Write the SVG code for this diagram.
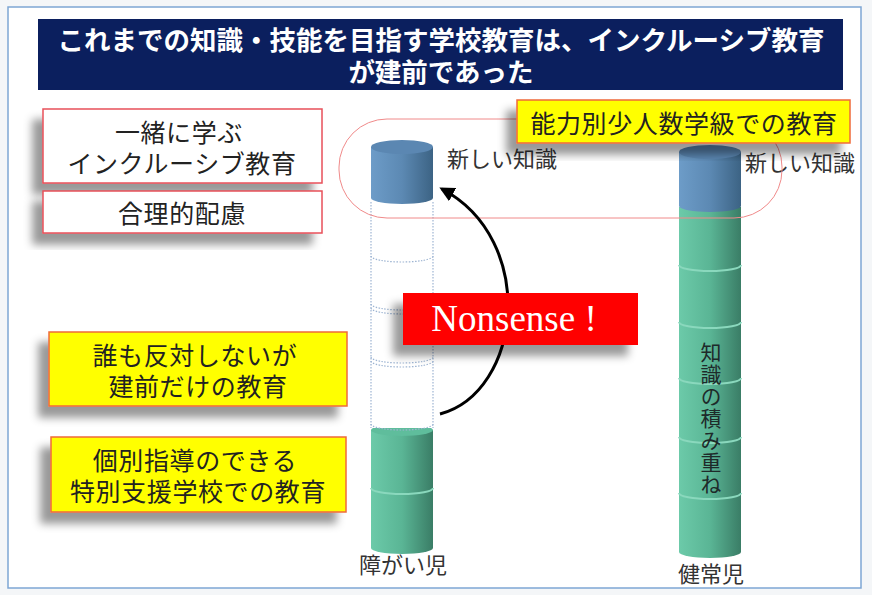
<svg xmlns="http://www.w3.org/2000/svg" width="872" height="595" viewBox="0 0 872 595">
  <defs>
    <style>
      .jp { font-family: "Noto Sans CJK JP", "Noto Sans", sans-serif; }
      .title { font-size: 26.5px; font-weight: bold; fill: #ffffff; }
      .box-text { font-size: 25px; letter-spacing: 0.6px; fill: #222222; }
      .label { font-size: 22px; fill: #333333; }
      .vertical { font-size: 21px; fill: #1e2a2a; writing-mode: vertical-rl; letter-spacing: 1px; }
      .white-box { fill: #ffffff; stroke: #e8505a; stroke-width: 1.5; }
      .yellow-box { fill: #ffff00; stroke: #f06a3a; stroke-width: 1.5; }
      .dotted { fill: none; stroke: #9db4d2; stroke-width: 1.2; stroke-dasharray: 1.5 1.5; }
      .ring-green { fill: none; stroke: #8ad8bd; stroke-width: 2; }
    </style>
    <filter id="shadow" x="-20%" y="-30%" width="140%" height="170%">
      <feGaussianBlur in="SourceAlpha" stdDeviation="4.5"/>
      <feOffset dx="-10" dy="11" result="blur"/>
      <feFlood flood-color="#000000" flood-opacity="0.4"/>
      <feComposite in2="blur" operator="in" result="sh"/>
      <feMerge>
        <feMergeNode in="sh"/>
        <feMergeNode in="SourceGraphic"/>
      </feMerge>
    </filter>
    <linearGradient id="blueBody" x1="0" y1="0" x2="1" y2="0">
      <stop offset="0" stop-color="#6d9cc8"/>
      <stop offset="0.5" stop-color="#5c89b3"/>
      <stop offset="1" stop-color="#3c6384"/>
    </linearGradient>
    <linearGradient id="greenBody" x1="0" y1="0" x2="1" y2="0">
      <stop offset="0" stop-color="#6ccaa9"/>
      <stop offset="0.5" stop-color="#5ab595"/>
      <stop offset="1" stop-color="#3a7d66"/>
    </linearGradient>
    <marker id="arrowHead" viewBox="0 0 10 10" refX="8" refY="5" markerWidth="5" markerHeight="5" orient="auto">
      <path d="M0,0 L10,5 L0,10 Z" fill="#000000"/>
    </marker>
  </defs>

  <!-- slide background and frame -->
  <rect x="0" y="0" width="872" height="595" fill="#f4f6f8"/>
  <rect x="8" y="7" width="853" height="581" fill="#ffffff" stroke="#7ea6d4" stroke-width="1.5"/>

  <!-- title bar -->
  <g id="title">
    <rect x="38" y="19" width="805" height="71" fill="#0b1f5e"/>
    <text class="jp title" x="441" y="50" text-anchor="middle">これまでの知識・技能を目指す学校教育は、インクルーシブ教育</text>
    <text class="jp title" x="441" y="82" text-anchor="middle">が建前であった</text>
  </g>

  <!-- left column: stacked knowledge of a child with disabilities -->
  <g id="cylinder-left">
    <!-- green base -->
    <rect x="371" y="430" width="62" height="118" fill="url(#greenBody)"/>
    <ellipse cx="402" cy="548" rx="31" ry="6" fill="url(#greenBody)"/>
    <ellipse cx="402" cy="430" rx="31" ry="6" fill="#5fbd9c"/>
    <path class="ring-green" d="M371,488 A31,6 0 0 0 433,488"/>
    <!-- empty (dotted) layers -->
    <rect x="371" y="202" width="62" height="226" fill="#ffffff"/>
    <line class="dotted" x1="371" y1="202" x2="371" y2="428"/>
    <line class="dotted" x1="433" y1="202" x2="433" y2="428"/>
    <path class="dotted" d="M371,256 A31,6 0 0 0 433,256"/>
    <path class="dotted" d="M371,304 A31,6 0 0 0 433,304 M371,308 A31,6 0 0 0 433,308"/>
    <path class="dotted" d="M371,357 A31,6 0 0 0 433,357 M371,361 A31,6 0 0 0 433,361"/>
    <path class="dotted" d="M371,424 A31,6 0 0 0 433,424"/>
    <!-- blue top: new knowledge -->
    <rect x="371" y="147" width="62" height="51" fill="url(#blueBody)"/>
    <ellipse cx="402" cy="198" rx="31" ry="6" fill="url(#blueBody)"/>
    <ellipse cx="402" cy="147" rx="31" ry="7" fill="#5b87b2"/>
    <text class="jp label" x="403" y="573" text-anchor="middle">障がい児</text>
  </g>

  <!-- right column: stacked knowledge of a typical child -->
  <g id="cylinder-right">
    <rect x="679" y="207" width="62" height="345" fill="url(#greenBody)"/>
    <ellipse cx="710" cy="552" rx="31" ry="6" fill="url(#greenBody)"/>
    <path class="ring-green" d="M679,265 A31,6 0 0 0 741,265"/>
    <path class="ring-green" d="M679,322 A31,6 0 0 0 741,322"/>
    <path class="ring-green" d="M679,378 A31,6 0 0 0 741,378"/>
    <path class="ring-green" d="M679,437 A31,6 0 0 0 741,437"/>
    <path class="ring-green" d="M679,493 A31,6 0 0 0 741,493"/>
    <rect x="679" y="152" width="62" height="54" fill="url(#blueBody)"/>
    <ellipse cx="710" cy="206" rx="31" ry="6" fill="url(#blueBody)"/>
    <ellipse cx="710" cy="152" rx="31" ry="7" fill="#5b87b2"/>
    <text class="jp vertical" x="711" y="342">知識の積み重ね</text>
    <text class="jp label" x="711" y="582" text-anchor="middle">健常児</text>
  </g>

  <!-- new-knowledge labels -->
  <g id="label-new-left">
    <text class="jp label" x="447" y="167">新しい知識</text>
  </g>
  <g id="label-new-right">
    <text class="jp label" x="745" y="171">新しい知識</text>
  </g>

  <!-- grouping outline around the new-knowledge tops -->
  <g id="grouping-outline">
    <rect x="339" y="119" width="443" height="99" rx="48" ry="48" fill="none" stroke="#f08a8a" stroke-width="1"/>
  </g>

  <!-- connectors -->
  <g id="connectors">
    <path d="M440,414 C522,392 538,240 442,189" fill="none" stroke="#000000" stroke-width="3" marker-end="url(#arrowHead)"/>
  </g>

  <!-- left column of callouts -->
  <g id="box-inclusive">
    <rect class="white-box" x="43" y="109" width="279" height="74" filter="url(#shadow)"/>
    <text class="jp box-text" text-anchor="middle" dominant-baseline="central">
      <tspan x="182" y="131">一緒に学ぶ</tspan>
      <tspan x="182" y="162">インクルーシブ教育</tspan>
    </text>
  </g>
  <g id="box-accommodation">
    <rect class="white-box" x="43" y="191" width="279" height="42" filter="url(#shadow)"/>
    <text class="jp box-text" x="182" y="212" text-anchor="middle" dominant-baseline="central">合理的配慮</text>
  </g>
  <g id="box-facade">
    <rect class="yellow-box" x="49" y="332" width="298" height="74" filter="url(#shadow)"/>
    <text class="jp box-text" text-anchor="middle" dominant-baseline="central">
      <tspan x="198" y="354">誰も反対しないが</tspan>
      <tspan x="198" y="385">建前だけの教育</tspan>
    </text>
  </g>
  <g id="box-special-school">
    <rect class="yellow-box" x="51" y="437" width="295" height="75" filter="url(#shadow)"/>
    <text class="jp box-text" text-anchor="middle" dominant-baseline="central">
      <tspan x="198" y="459">個別指導のできる</tspan>
      <tspan x="198" y="490">特別支援学校での教育</tspan>
    </text>
  </g>

  <!-- ability-grouped small class callout -->
  <g id="box-small-class">
    <rect class="yellow-box" x="517" y="100" width="333" height="43" filter="url(#shadow)"/>
    <text class="jp box-text" x="684" y="122" text-anchor="middle" dominant-baseline="central">能力別少人数学級での教育</text>
  </g>

  <!-- Nonsense badge -->
  <g id="badge-nonsense">
    <rect x="403" y="293" width="235" height="52" fill="#ff0000" filter="url(#shadow)"/>
    <text x="514" y="331" text-anchor="middle" font-family="Liberation Serif, serif" font-size="37" fill="#ffffff">Nonsense !</text>
  </g>
</svg>
